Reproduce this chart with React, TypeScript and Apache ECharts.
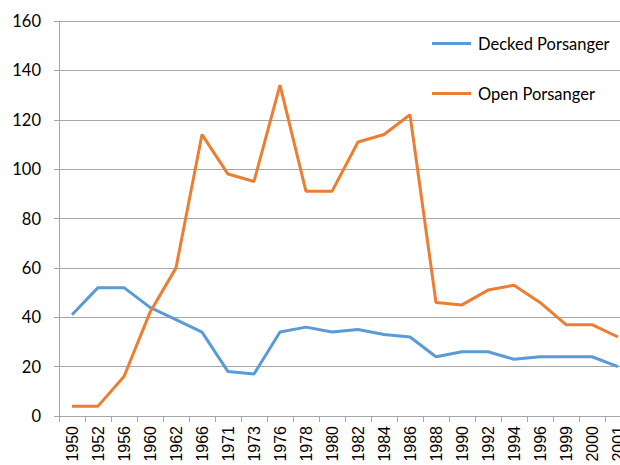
import React, { useEffect, useRef } from "react";
import * as echarts from "echarts";

const years = ["1950","1952","1956","1960","1962","1966","1971","1973","1976","1978","1980","1982","1984","1986","1988","1990","1992","1994","1996","1999","2000","2001"];
const decked = [41,52,52,44,39,34,18,17,34,36,34,35,33,32,24,26,26,23,24,24,24,20];
const open = [4,4,16,42,60,114,98,95,134,91,91,111,114,122,46,45,51,53,46,37,37,32];

export default function App() {
  const ref = useRef<HTMLDivElement>(null);
  useEffect(() => {
    const chart = echarts.init(ref.current!, null, { renderer: "svg" });
    chart.setOption({
      animation: false,
      backgroundColor: "#ffffff",
      grid: { left: 59, top: 21, width: 572, height: 395, containLabel: false, outerBoundsMode: "none" },
      legend: {
        orient: "vertical",
        left: 432,
        top: 35,
        padding: 0,
        icon: "rect",
        itemWidth: 39,
        itemHeight: 3,
        itemGap: 33,
        textStyle: { fontFamily: "Lato", fontSize: 16.5, color: "#000", padding: [0, 0, 0, 2] },
        data: ["Decked Porsanger", "Open Porsanger"],
      },
      xAxis: {
        type: "category",
        data: years,
        boundaryGap: true,
        axisLine: { lineStyle: { color: "#a6a6a6", width: 1 } },
        axisTick: { show: true, length: 6, alignWithLabel: false, lineStyle: { color: "#a6a6a6" } },
        axisLabel: { rotate: 90, margin: 10, interval: 0, fontFamily: "Liberation Sans", fontSize: 16, color: "#000" },
        splitLine: { show: false },
      },
      yAxis: {
        type: "value",
        min: 0,
        max: 160,
        interval: 20,
        axisLine: { show: true, lineStyle: { color: "#a6a6a6", width: 1 } },
        axisTick: { show: true, length: 5, inside: false, lineStyle: { color: "#a6a6a6" } },
        axisLabel: { margin: 18, fontFamily: "Lato", fontSize: 16.5, color: "#000" },
        splitLine: { show: true, lineStyle: { color: "#a6a6a6", width: 1 } },
      },
      series: [
        {
          name: "Decked Porsanger",
          type: "line",
          data: decked,
          showSymbol: false,
          symbol: "none",
          lineStyle: { color: "#5B9BD5", width: 3 },
          itemStyle: { color: "#5B9BD5" },
        },
        {
          name: "Open Porsanger",
          type: "line",
          data: open,
          showSymbol: false,
          symbol: "none",
          lineStyle: { color: "#ED7D31", width: 3 },
          itemStyle: { color: "#ED7D31" },
        },
      ],
    });
    return () => chart.dispose();
  }, []);
  return <div ref={ref} style={{ width: 620, height: 465, position: "fixed", left: 0, top: 0 }} />;
}
